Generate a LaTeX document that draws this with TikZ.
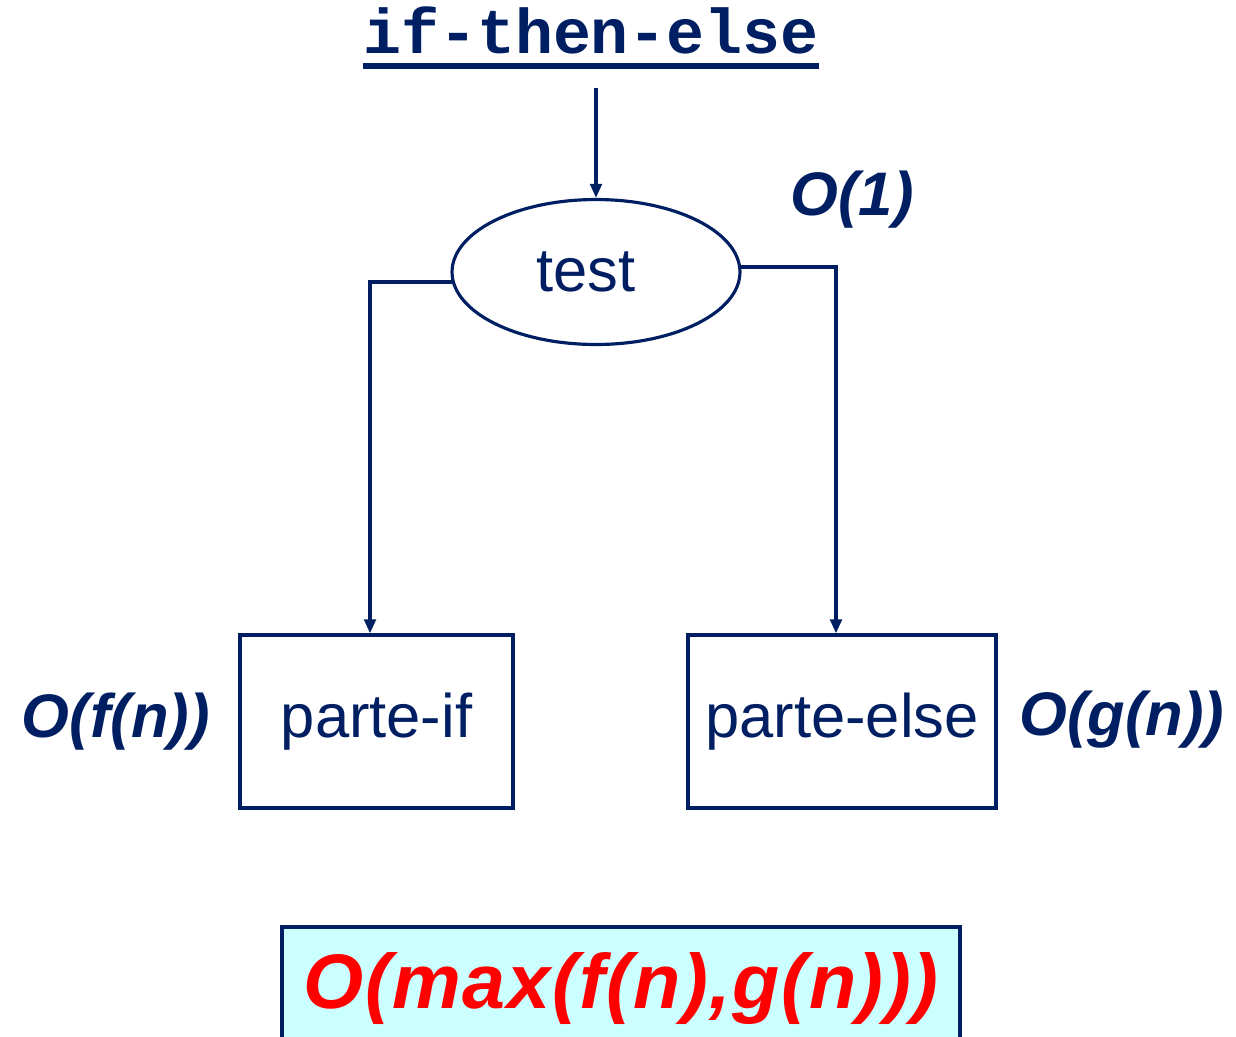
\documentclass[tikz,border=0pt]{standalone}
\usepackage{fontspec}
\setmainfont{Liberation Sans}
\newfontfamily\codefont{Liberation Mono}
\usepackage{tikz}
\usetikzlibrary{shapes}
\usetikzlibrary{arrows.meta}
\usetikzlibrary{calc}
\usepackage{xcolor}
\definecolor{navy}{RGB}{0,30,98}
\definecolor{paleCyan}{RGB}{204,255,255}
\definecolor{hotRed}{RGB}{255,0,0}

\tikzset{
	arr/.style={draw=navy, line width=2pt, -{Triangle[length=8pt,width=6.5pt]}},
	blk/.style={draw=navy, line width=1.8pt, text=navy, font=\fontsize{35}{40}\selectfont, inner sep=0pt},
	cost/.style={text=navy, font=\fontsize{35}{40}\selectfont\bfseries\itshape, inner sep=0pt}
}

\begin{document}
\begin{tikzpicture}[x=0.02cm, y=-0.02cm]
\useasboundingbox (0,0) rectangle (1236,1036);
% title
\node[text=navy, inner sep=0pt, font=\fontsize{36}{40}\selectfont\codefont\bfseries] (title) at (591,30) {if-then-else};
\draw[navy, line width=3.4pt] ($(title.base west)+(0,13)$) -- ($(title.base east)+(0,13)$);
\coordinate (top) at (596,88);
% blocks
\node[blk, ellipse, minimum width=5.76cm, minimum height=2.9cm] (test) at (596,272) {\hspace*{-0.4cm}test};
\node[blk, rectangle, minimum width=5.46cm, minimum height=3.46cm] (ifpart) at (376.5,721.5) {parte-if};
\node[blk, rectangle, minimum width=6.16cm, minimum height=3.46cm] (elsepart) at (842,721.5) {parte-else};
\node[draw=navy, fill=paleCyan, line width=1.8pt, minimum width=13.56cm, minimum height=2.46cm, inner sep=0pt,
	text=hotRed, font=\fontsize{44}{50}\selectfont\bfseries\itshape\addfontfeature{LetterSpace=2}] (total) at (621,988.5) {O(max(f(n),g(n)))};
% costs
\node[cost] (c1) at (852,200) {O(1)};
\node[cost, anchor=east] (cf) at (210,722) {O(f(n))};
\node[cost, anchor=west] (cg) at (1019,720) {O(g(n))};
% connectors
\draw[arr] (top) -- (test.north);
\draw[arr] (test.184) -| ([xshift=-0.13cm]ifpart.north);
\draw[arr] (test.2) -| ([xshift=-0.12cm]elsepart.north);
\end{tikzpicture}
\end{document}
